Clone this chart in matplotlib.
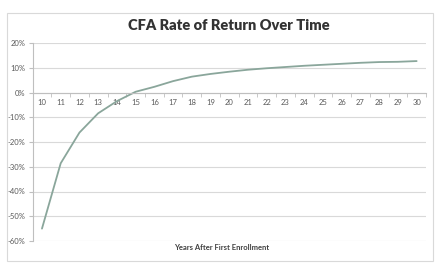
import matplotlib
matplotlib.use("Agg")
import matplotlib.pyplot as plt
from matplotlib.patches import Rectangle
from matplotlib.ticker import FuncFormatter, MultipleLocator

years = list(range(10, 31))
returns = [-55.0, -28.6, -16.2, -8.4, -3.5, 0.3, 2.3, 4.6, 6.4, 7.5, 8.4,
           9.2, 9.8, 10.3, 10.8, 11.2, 11.6, 12.0, 12.3, 12.4, 12.7]
title = "CFA Rate of Return Over Time"
xlabel = "Years After First Enrollment"

plt.rcParams['font.family'] = ['Lato', 'DejaVu Sans']

fig = plt.figure(figsize=(4.45, 2.67), dpi=100)
fig.patch.set_facecolor('white')
fig.patches.append(Rectangle((7/445, 1-261/267), 426/445, 248/267,
                             transform=fig.transFigure, fill=False,
                             edgecolor='#d9d9d9', linewidth=0.8))

ax = fig.add_axes([32.6/445, 1-241/267, (426-32.6)/445, (241-43)/267])
x = list(range(len(years)))
ax.plot(x, returns, color='#8aa69b', linewidth=1.3, solid_capstyle='round')

ax.set_xlim(-0.5, len(years)-0.5)
ax.set_ylim(-60, 20)
ax.yaxis.set_major_locator(MultipleLocator(10))
ax.yaxis.set_major_formatter(FuncFormatter(lambda v, p: f"{int(round(v))}%"))
ax.grid(axis='y', color='#d9d9d9', linewidth=0.8)
ax.set_axisbelow(True)

for s in ['top', 'right']:
    ax.spines[s].set_visible(False)
ax.spines['left'].set_color('#bfbfbf')
ax.spines['left'].set_linewidth(0.8)
ax.spines['bottom'].set_position(('data', 0))
ax.spines['bottom'].set_color('#bfbfbf')
ax.spines['bottom'].set_linewidth(0.8)

ax.set_xticks(x)
ax.set_xticklabels([str(y) for y in years])
ax.set_xticks([i - 0.5 for i in range(len(years) + 1)], minor=True)
ax.tick_params(axis='x', which='major', length=0, labelsize=5.5, pad=4.5, colors='#595959')
ax.tick_params(axis='x', which='minor', length=3, direction='out', color='#bfbfbf')
ax.tick_params(axis='y', length=3, color='#bfbfbf', labelsize=5.5, pad=2, colors='#595959')

ax.set_title(title, fontsize=10.5, fontweight='heavy', color='#333333', pad=9)
fig.text(222/445, 1-247/267, xlabel, ha='center', va='center', fontsize=5.5,
         fontweight='bold', color='#404040')

fig.savefig("out.png", dpi=100, facecolor='white')
